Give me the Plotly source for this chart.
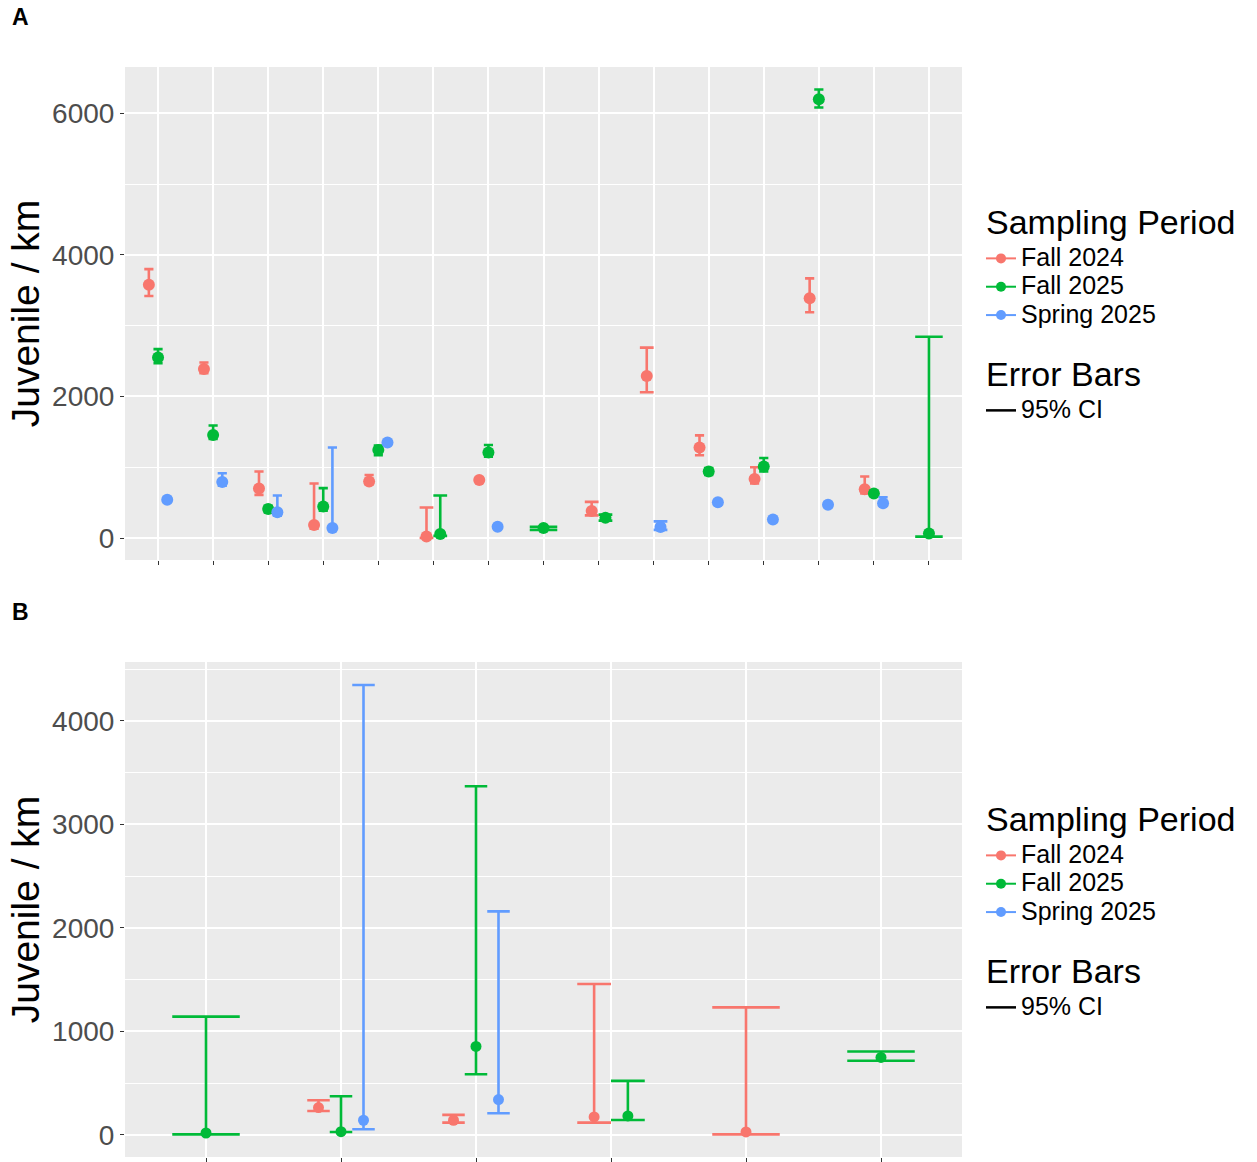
import plotly.graph_objects as go

# ---------------- data ----------------
series_names = ["Fall 2024", "Fall 2025", "Spring 2025"]
series_colors = ["#F8766D", "#00BA38", "#619CFF"]
legend_title_series = "Sampling Period"
legend_title_error = "Error Bars"
ci_label = "95% CI"

sites_A = [f"A{i}" for i in range(1, 16)]
fall24_A = [3580, 2390, 700, 185, 800, 20, 820, None, 380, 2290, 1280, 835, 3390, 690, None]
fall24_A_lo = [3420, 2330, 610, 130, 760, 0, 790, None, 320, 2060, 1170, 770, 3190, 630, None]
fall24_A_hi = [3800, 2480, 940, 770, 890, 430, 850, None, 510, 2690, 1450, 1000, 3670, 870, None]

fall25_A = [2550, 1455, 410, 445, 1245, 55, 1210, 140, 285, None, 940, 1010, 6200, 630, 65]
fall25_A_lo = [2470, 1400, 365, 385, 1170, 30, 1150, 115, 245, None, 890, 940, 6085, 600, 20]
fall25_A_hi = [2670, 1590, 455, 705, 1305, 600, 1315, 160, 330, None, 990, 1130, 6340, 660, 2845]

spring25_A = [540, 790, 365, 140, 1350, None, 160, None, None, 155, 505, 260, 470, 490, None]
spring25_A_lo = [510, 740, 315, 105, 1320, None, 130, None, None, 115, 475, 230, 440, 455, None]
spring25_A_hi = [570, 915, 600, 1280, 1380, None, 190, None, None, 235, 535, 290, 500, 575, None]

sites_B = [f"B{i}" for i in range(1, 7)]
fall24_B = [None, 265, 142, 174, 29, None]
fall24_B_lo = [None, 232, 119, 119, 6, None]
fall24_B_hi = [None, 336, 194, 1459, 1233, None]

fall25_B = [19, 32, 855, 184, None, 749]
fall25_B_lo = [6, 29, 587, 145, None, 717]
fall25_B_hi = [1143, 374, 3370, 523, None, 807]

spring25_B = [None, 142, 342, None, None, None]
spring25_B_lo = [None, 55, 210, None, None, None]
spring25_B_hi = [None, 4348, 2160, None, None, None]

yticks_A = [0, 2000, 4000, 6000]
yticks_B = [0, 1000, 2000, 3000, 4000]

# ---------------- layout geometry ----------------
W, H = 1257, 1162
FONT = "Liberation Sans, Arial, Helvetica, sans-serif"


def px(xs):
    return xs / W


def py(ys):
    return 1 - ys / H


x_dom = [px(125), px(962)]
yA_dom = [py(560), py(67)]
yB_dom = [py(1157), py(662)]
yA_range = [-311, 6657]
yB_range = [-213, 4570]
DODGE = 0.5

fig = go.Figure()


def add_panel(sites, data, xaxis, yaxis, plot_px_w, msize):
    n_cat = len(sites)
    xr = [-0.6, n_cat - 1 + 0.6]
    px_per_unit = plot_px_w / (xr[1] - xr[0])
    for i in range(n_cat):
        present = [s for s in range(3) if data[s][0][i] is not None]
        n = len(present)
        for k, s in enumerate(present):
            v, lo, hi = data[s][0][i], data[s][1][i], data[s][2][i]
            off = DODGE / n * (k - (n - 1) / 2)
            half = DODGE / n / 2 * px_per_unit
            fig.add_trace(go.Scatter(
                x=[i + off], y=[v], mode="markers",
                marker=dict(color=series_colors[s], size=msize),
                error_y=dict(type="data", symmetric=False, array=[hi - v], arrayminus=[v - lo],
                             width=half, thickness=2.6, color=series_colors[s]),
                xaxis=xaxis, yaxis=yaxis, showlegend=False, hoverinfo="y"))
    return xr


plot_w = 962 - 125
dataA = [(fall24_A, fall24_A_lo, fall24_A_hi), (fall25_A, fall25_A_lo, fall25_A_hi),
         (spring25_A, spring25_A_lo, spring25_A_hi)]
dataB = [(fall24_B, fall24_B_lo, fall24_B_hi), (fall25_B, fall25_B_lo, fall25_B_hi),
         (spring25_B, spring25_B_lo, spring25_B_hi)]
xrA = add_panel(sites_A, dataA, "x", "y", plot_w, 12)
xrB = add_panel(sites_B, dataB, "x2", "y2", plot_w, 11)


def item_text(t):
    return f'<span style="font-size:25px">{t}</span>'


group_title_font = dict(size=34, family=FONT, color="black")

# legend entries (group titles act as the legend headings)
for p, (leg_s, leg_e) in enumerate((("legend", "legend2"), ("legend3", "legend4"))):
    for s in range(3):
        fig.add_trace(go.Scatter(x=[None], y=[None], mode="lines+markers", name=item_text(series_names[s]),
                                 line=dict(color=series_colors[s], width=2),
                                 marker=dict(color=series_colors[s], size=10),
                                 legend=leg_s, legendgroup=f"sp{p}",
                                 legendgrouptitle=dict(text=legend_title_series, font=group_title_font),
                                 showlegend=True))
    fig.add_trace(go.Scatter(x=[None], y=[None], mode="lines", name=item_text(ci_label),
                             line=dict(color="black", width=2.5), legend=leg_e, legendgroup=f"eb{p}",
                             legendgrouptitle=dict(text=legend_title_error, font=group_title_font),
                             showlegend=True))

axis_common = dict(showline=False, zeroline=False, gridcolor="white", gridwidth=1.6,
                   ticks="outside", ticklen=4, tickcolor="#333333", tickwidth=1,
                   automargin=False)

legend_common = dict(bgcolor="rgba(0,0,0,0)", font=dict(family=FONT, size=19.5, color="black"),
                     x=px(981), xanchor="left", yanchor="top", tracegroupgap=0,
                     itemwidth=30, groupclick="toggleitem")
ytitle = dict(text="Juvenile / km", font=dict(size=39, family=FONT, color="black"), standoff=0)
ytickfont = dict(size=28, color="#4D4D4D", family=FONT)

fig.update_layout(
    width=W, height=H,
    margin=dict(l=0, r=0, t=0, b=0),
    paper_bgcolor="white", plot_bgcolor="#EBEBEB",
    font=dict(family=FONT, color="black"),
    xaxis=dict(domain=x_dom, range=xrA, tickvals=list(range(len(sites_A))), ticktext=sites_A,
               showticklabels=False, anchor="y", **axis_common),
    yaxis=dict(domain=yA_dom, range=yA_range, tickvals=yticks_A, tickfont=ytickfont,
               minor=dict(dtick=1000, tick0=0, showgrid=True, gridcolor="white", gridwidth=0.7, ticks=""),
               title=ytitle, anchor="x", **axis_common),
    xaxis2=dict(domain=x_dom, range=xrB, tickvals=list(range(len(sites_B))), ticktext=sites_B,
                showticklabels=False, anchor="y2", **axis_common),
    yaxis2=dict(domain=yB_dom, range=yB_range, tickvals=yticks_B, tickfont=ytickfont,
                minor=dict(dtick=500, tick0=0, showgrid=True, gridcolor="white", gridwidth=0.7, ticks=""),
                title=ytitle, anchor="x2", **axis_common),
    legend=dict(y=py(192), **legend_common),
    legend2=dict(y=py(344), **legend_common),
    legend3=dict(y=py(789), **legend_common),
    legend4=dict(y=py(941), **legend_common),
    annotations=[
        dict(text="<b>A</b>", x=px(20), y=py(17), xref="paper", yref="paper",
             xanchor="center", yanchor="middle",
             showarrow=False, font=dict(size=23, family=FONT, color="black")),
        dict(text="<b>B</b>", x=px(20), y=py(612), xref="paper", yref="paper",
             xanchor="center", yanchor="middle",
             showarrow=False, font=dict(size=23, family=FONT, color="black")),
    ],
)

fig.write_html("out.html", config={"displayModeBar": False},
               post_script="document.body.style.margin='0px';")
